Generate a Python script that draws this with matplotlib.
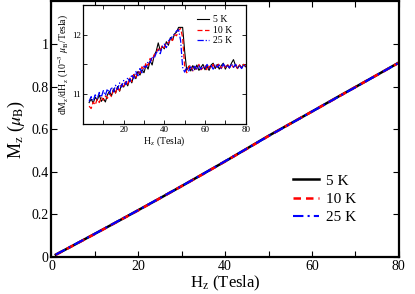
import matplotlib
matplotlib.use("Agg")
import matplotlib.pyplot as plt

plt.rcParams['font.family'] = ['Liberation Serif', 'DejaVu Serif']
plt.rcParams['mathtext.fontset'] = 'stix'

# ---- main panel data: M_z vs H_z ----
H_main = [1, 5, 10, 15, 20, 25, 30, 35, 40, 45, 50, 55, 60, 65, 70, 75, 80]
M_5K = [0.011, 0.054, 0.109, 0.164, 0.220, 0.276, 0.333, 0.391, 0.449, 0.509, 0.569,
        0.626, 0.683, 0.741, 0.798, 0.855, 0.913]
M_10K = [0.010, 0.054, 0.108, 0.164, 0.219, 0.276, 0.333, 0.390, 0.449, 0.508, 0.568,
         0.626, 0.683, 0.740, 0.798, 0.855, 0.912]
M_25K = [0.011, 0.055, 0.109, 0.165, 0.220, 0.277, 0.333, 0.391, 0.450, 0.509, 0.568,
         0.625, 0.683, 0.740, 0.797, 0.855, 0.912]
labels = ["5 K", "10 K", "25 K"]
main_xticks = [0, 20, 40, 60, 80]
main_xminor = [10, 30, 50, 70]
main_yticks = [0, 0.2, 0.4, 0.6, 0.8, 1.0]
main_yticklabels = ["0", "0.2", "0.4", "0.6", "0.8", "1"]

# ---- inset data: dM_z/dH_z (1e-3 mu_B/Tesla), H = 3..80 ----
H_in = list(range(3, 81))
D_5K = [10.86, 10.92, 10.85, 10.95, 10.90, 10.99, 10.88, 10.93, 10.87, 10.99,
        11.05, 10.97, 11.09, 11.02, 11.13, 11.05, 11.17, 11.12, 11.20, 11.14,
        11.26, 11.19, 11.33, 11.26, 11.38, 11.32, 11.41, 11.36, 11.49, 11.42,
        11.56, 11.49, 11.65, 11.72, 11.86, 11.73, 11.80, 11.76, 11.88, 11.82,
        11.95, 11.90, 12.01, 12.04, 12.12, 12.12, 12.12, 11.72, 11.40, 11.47,
        11.39, 11.48, 11.41, 11.49, 11.40, 11.45, 11.50, 11.41, 11.47, 11.40,
        11.49, 11.52, 11.43, 11.50, 11.42, 11.48, 11.52, 11.42, 11.49, 11.44,
        11.52, 11.58, 11.48, 11.43, 11.49, 11.44, 11.50, 11.46]
D_10K = [10.80, 10.76, 10.87, 10.82, 10.92, 10.86, 10.95, 10.90, 10.97, 10.93,
         11.01, 10.96, 11.07, 11.02, 11.12, 11.06, 11.16, 11.11, 11.22, 11.17,
         11.27, 11.21, 11.33, 11.28, 11.39, 11.35, 11.46, 11.41, 11.53, 11.48,
         11.60, 11.56, 11.66, 11.70, 11.76, 11.72, 11.82, 11.78, 11.87, 11.85,
         11.93, 11.90, 12.00, 11.98, 12.08, 12.10, 11.95, 11.45, 11.36, 11.46,
         11.49, 11.39, 11.46, 11.42, 11.50, 11.41, 11.44, 11.49, 11.40, 11.47,
         11.43, 11.50, 11.44, 11.48, 11.51, 11.43, 11.49, 11.45, 11.51, 11.44,
         11.49, 11.45, 11.51, 11.43, 11.49, 11.45, 11.50, 11.47]
D_25K = [10.88, 10.96, 10.89, 10.99, 10.92, 11.03, 10.95, 11.06, 10.98, 11.09,
         11.01, 11.12, 11.04, 11.15, 11.08, 11.19, 11.12, 11.23, 11.16, 11.28,
         11.21, 11.33, 11.26, 11.38, 11.31, 11.43, 11.36, 11.47, 11.45, 11.55,
         11.53, 11.63, 11.60, 11.69, 11.74, 11.68, 11.80, 11.84, 11.78, 11.89,
         11.93, 11.97, 12.01, 12.06, 12.08, 11.90, 11.45, 11.37, 11.45, 11.39,
         11.46, 11.40, 11.47, 11.41, 11.48, 11.42, 11.47, 11.43, 11.50, 11.44,
         11.48, 11.42, 11.50, 11.45, 11.49, 11.43, 11.51, 11.45, 11.49, 11.44,
         11.51, 11.45, 11.50, 11.44, 11.48, 11.43, 11.49, 11.46]
in_xticks = [20, 40, 60, 80]
in_xminor = [10, 30, 50, 70]
in_yticks = [11, 12]
in_yminor = [11.5]

colors = ["black", "red", "blue"]

fig = plt.figure(figsize=(4.15, 2.94), dpi=100)
ax = fig.add_axes([0.124, 0.126, 0.837, 0.869])

ax.plot(H_main, M_5K, color=colors[0], lw=1.8, ls='-', label=labels[0])
ax.plot(H_main, M_10K, color=colors[1], lw=1.8, ls=(0, (3, 2)), label=labels[1])
ax.plot(H_main, M_25K, color=colors[2], lw=1.5, ls=(0, (5, 2, 1, 2)), label=labels[2])
ax.set_xlim(0, 80)
ax.set_ylim(0, 1.2)
ax.set_xticks(main_xticks)
ax.set_xticks(main_xminor, minor=True)
ax.set_yticks(main_yticks)
ax.set_yticklabels(main_yticklabels)
ax.tick_params(which='both', direction='in', top=True, right=True, labelsize=10,
               pad=2, width=0.8)
ax.tick_params(which='major', length=4.5)
ax.tick_params(which='minor', length=4.5)
for s in ax.spines.values():
    s.set_linewidth(1.6)
ax.set_xlabel(r"H$_{\rm z}$ (Tesla)", fontsize=12, labelpad=1)
ax.set_ylabel(r"M$_{\rm z}$ ($\mu_{\rm B}$)", fontsize=13, labelpad=3)
ax.legend(loc='upper left', bbox_to_anchor=(0.695, 0.325), frameon=False,
          fontsize=11, handlelength=1.7, handletextpad=0.5, labelspacing=0.3,
          borderpad=0, borderaxespad=0)

# inset
axi = fig.add_axes([0.2, 0.578, 0.392, 0.406])
axi.plot(H_in, D_5K, color=colors[0], lw=0.8, ls='-', label=labels[0])
axi.plot(H_in, D_10K, color=colors[1], lw=0.9, ls=(0, (4, 2)), label=labels[1])
axi.plot(H_in, D_25K, color=colors[2], lw=0.9, ls=(0, (5, 1.5, 1, 1.5)), label=labels[2])
axi.set_xlim(0, 80)
axi.set_ylim(10.5, 12.5)
axi.set_xticks(in_xticks)
axi.set_xticks(in_xminor, minor=True)
axi.set_yticks(in_yticks)
axi.set_yticks(in_yminor, minor=True)
axi.tick_params(which='both', direction='in', top=True, right=True, labelsize=6.5,
                pad=1.5, width=0.6)
axi.tick_params(which='major', length=3)
axi.tick_params(which='minor', length=3)
for s in axi.spines.values():
    s.set_linewidth(0.9)
axi.set_xlabel(r"H$_{\rm z}$ (Tesla)", fontsize=7, labelpad=0)
axi.set_ylabel(r"dM$_{\rm z}$/dH$_{\rm z}$ (10$^{-3}$ $\mu_{\rm B}$/Tesla)", fontsize=7,
               labelpad=1)
axi.legend(loc='upper left', bbox_to_anchor=(0.70, 0.91), frameon=False,
           fontsize=7, handlelength=1.2, handletextpad=0.5, labelspacing=0.15,
           borderpad=0, borderaxespad=0)

fig.savefig("out.png", dpi=100)
